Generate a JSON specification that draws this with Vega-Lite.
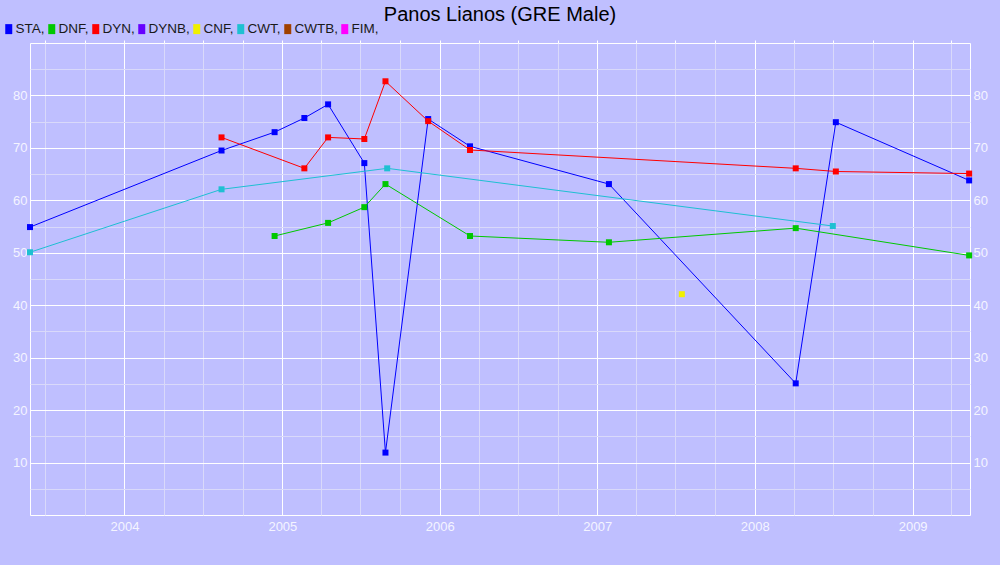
{
  "$schema": "https://vega.github.io/schema/vega-lite/v6.json",
  "autosize": "none",
  "width": 940,
  "height": 472,
  "padding": {"left": 30, "top": 43, "right": 30, "bottom": 50},
  "background": "#BFBFFF",
  "title": {
    "text": "Panos Lianos (GRE Male)",
    "font": "Liberation Sans",
    "fontSize": 20,
    "fontWeight": "normal",
    "color": "#000000",
    "anchor": "middle",
    "frame": "group",
    "offset": -3
  },
  "config": {
    "view": {"stroke": "#FFFFFF", "strokeWidth": 1, "fill": "#BFBFFF"},
    "axis": {
      "labelFont": "Liberation Sans",
      "labelFontSize": 13,
      "labelColor": "#F4F4FF",
      "domain": false,
      "ticks": false,
      "title": null
    }
  },
  "data": {
    "values": [
      {"s": "STA", "d": "2003-05-27", "v": 54.9},
      {"s": "STA", "d": "2004-08-13", "v": 69.5},
      {"s": "STA", "d": "2004-12-14", "v": 73.0},
      {"s": "STA", "d": "2005-02-21", "v": 75.7},
      {"s": "STA", "d": "2005-04-17", "v": 78.3},
      {"s": "STA", "d": "2005-07-10", "v": 67.1},
      {"s": "STA", "d": "2005-08-28", "v": 11.9},
      {"s": "STA", "d": "2005-12-05", "v": 75.5},
      {"s": "STA", "d": "2006-03-12", "v": 70.3},
      {"s": "STA", "d": "2007-01-28", "v": 63.1},
      {"s": "STA", "d": "2008-04-05", "v": 25.1},
      {"s": "STA", "d": "2008-07-07", "v": 74.9},
      {"s": "STA", "d": "2009-05-12", "v": 63.8},
      {"s": "DNF", "d": "2004-12-14", "v": 53.2},
      {"s": "DNF", "d": "2005-04-17", "v": 55.7},
      {"s": "DNF", "d": "2005-07-10", "v": 58.7},
      {"s": "DNF", "d": "2005-08-28", "v": 63.1},
      {"s": "DNF", "d": "2006-03-12", "v": 53.2},
      {"s": "DNF", "d": "2007-01-28", "v": 52.0},
      {"s": "DNF", "d": "2008-04-05", "v": 54.7},
      {"s": "DNF", "d": "2009-05-12", "v": 49.5},
      {"s": "DYN", "d": "2004-08-13", "v": 72.0},
      {"s": "DYN", "d": "2005-02-21", "v": 66.1},
      {"s": "DYN", "d": "2005-04-17", "v": 72.0},
      {"s": "DYN", "d": "2005-07-10", "v": 71.7},
      {"s": "DYN", "d": "2005-08-28", "v": 82.7},
      {"s": "DYN", "d": "2005-12-05", "v": 75.1},
      {"s": "DYN", "d": "2006-03-12", "v": 69.6},
      {"s": "DYN", "d": "2008-04-05", "v": 66.1},
      {"s": "DYN", "d": "2008-07-07", "v": 65.5},
      {"s": "DYN", "d": "2009-05-12", "v": 65.1},
      {"s": "CNF", "d": "2007-07-16", "v": 42.1},
      {"s": "CWT", "d": "2003-05-27", "v": 50.1},
      {"s": "CWT", "d": "2004-08-13", "v": 62.1},
      {"s": "CWT", "d": "2005-09-01", "v": 66.1},
      {"s": "CWT", "d": "2008-06-30", "v": 55.1}
    ]
  },
  "resolve": {"axis": {"y": "independent", "x": "independent"}},
  "layer": [
    {
      "mark": {"type": "line", "strokeWidth": 1, "interpolate": "linear"},
      "encoding": {
        "x": {
          "field": "d",
          "type": "temporal",
          "scale": {
            "type": "utc",
            "domain": [
              {"year": 2003, "month": 5, "date": 27, "utc": true},
              {"year": 2009, "month": 5, "date": 14, "utc": true}
            ],
            "nice": false
          },
          "axis": {
            "tickCount": {"interval": "month", "step": 3},
            "grid": true,
            "gridColor": {
              "condition": {"test": "utcmonth(datum.value) == 0", "value": "#FFFFFF"},
              "value": "#D9D9FA"
            },
            "gridWidth": 1,
            "gridOpacity": 1,
            "labelExpr": "utcmonth(datum.value) == 0 ? utcFormat(datum.value, '%Y') : ''",
            "labelPadding": 5,
            "labelFlush": false,
            "labelOverlap": false
          }
        },
        "y": {
          "field": "v",
          "type": "quantitative",
          "scale": {"domain": [0, 90], "nice": false, "zero": true},
          "axis": {
            "values": [5, 10, 15, 20, 25, 30, 35, 40, 45, 50, 55, 60, 65, 70, 75, 80, 85],
            "grid": true,
            "gridColor": {
              "condition": {"test": "datum.value % 10 == 0", "value": "#FFFFFF"},
              "value": "#D9D9FA"
            },
            "gridOpacity": 1,
            "labelExpr": "datum.value % 10 == 0 ? datum.label : ''",
            "labelPadding": 3,
            "labelOverlap": false
          }
        },
        "color": {
          "field": "s",
          "type": "nominal",
          "scale": {
            "domain": ["STA", "DNF", "DYN", "DYNB", "CNF", "CWT", "CWTB", "FIM"],
            "range": ["#0000FF", "#00C800", "#FF0000", "#6600FF", "#F0F000", "#1EC0D2", "#A04000", "#FF00FF"]
          },
          "legend": {
            "orient": "none",
            "legendX": -28,
            "legendY": -21,
            "direction": "horizontal",
            "title": null,
            "symbolType": "M-0.7,-1H0.7V1H-0.7Z",
            "symbolSize": 100,
            "symbolStrokeWidth": 0,
            "symbolOpacity": 1,
            "symbolOffset": 0,
            "labelFont": "Liberation Sans",
            "labelFontSize": 13.5,
            "labelColor": "#1A1A1A",
            "labelOffset": 0,
            "columnPadding": -5,
            "labelExpr": "datum.label + ','",
            "padding": 0,
            "encode": {
              "symbols": {
                "update": {
                  "fill": {"scale": "color", "field": "value"},
                  "fillOpacity": {"value": 1},
                  "strokeWidth": {"value": 0}
                }
              }
            }
          }
        },
        "detail": {"field": "s"}
      }
    },
    {
      "mark": {"type": "point", "shape": "square", "filled": true, "size": 36, "opacity": 1},
      "encoding": {
        "x": {"field": "d", "type": "temporal", "axis": null},
        "y": {"field": "v", "type": "quantitative", "axis": null},
        "color": {"field": "s", "type": "nominal"}
      }
    },
    {
      "mark": {"type": "point", "opacity": 0},
      "encoding": {
        "x": {
          "field": "d",
          "type": "temporal",
          "axis": {
            "orient": "top",
            "tickCount": {"interval": "month", "step": 3},
            "grid": false,
            "labels": false,
            "ticks": true,
            "tickSize": 3,
            "tickColor": "#FFFFFF",
            "tickWidth": 1
          }
        },
        "y": {
          "field": "v",
          "type": "quantitative",
          "axis": {
            "orient": "right",
            "values": [10, 20, 30, 40, 50, 60, 70, 80],
            "grid": false,
            "labelPadding": 3
          }
        }
      }
    }
  ]
}
